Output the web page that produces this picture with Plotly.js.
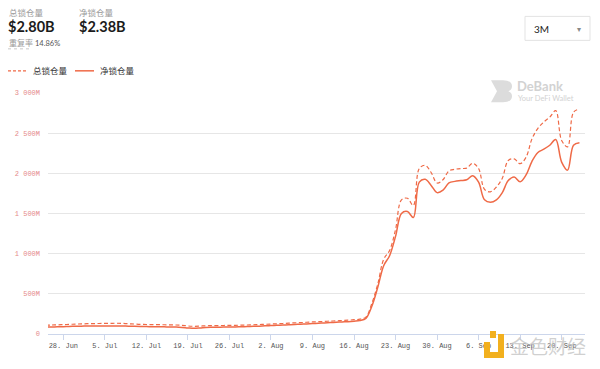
<!DOCTYPE html>
<html>
<head>
<meta charset="utf-8">
<script src="https://cdn.plot.ly/plotly-3.0.1.min.js"></script>
<style>
html,body{margin:0;padding:0;background:#fff;}
#chart{width:600px;height:369px;}
</style>
</head>
<body>
<div id="chart"></div>
<script>
// ---- data (values in millions USD), daily from 2021-06-25 ----
var startDate = '2021-06-25';
var totalLocked = [
 110,112,114,117,120,123,126,128,130,131,
 132,133,134,132,128,124,120,118,117,116,
 115,114,112,108,100,96,98,102,104,105,
 106,107,108,110,112,115,118,121,124,127,
 131,135,139,142,146,150,153,157,160,164,
 168,172,178,185,210,380,620,930,1040,1300,
 1670,1690,1600,2060,2100,2010,1880,1920,2030,2050,
 2060,2065,2125,2060,1800,1770,1830,1940,2160,2180,
 2120,2200,2430,2560,2640,2700,2780,2410,2330,2760,
 2800
];
var netLocked = [
 86,88,89,91,94,96,98,99,100,101,
 101,101,101,100,98,95,93,92,91,90,
 89,88,86,82,76,72,75,80,83,85,
 86,87,88,90,92,95,98,102,105,108,
 111,115,119,122,126,130,134,138,142,146,
 150,154,160,168,194,345,580,850,975,1215,
 1500,1525,1450,1890,1925,1850,1760,1790,1880,1900,
 1910,1920,1970,1890,1670,1640,1670,1760,1910,1955,
 1895,1980,2150,2260,2300,2350,2420,2140,2040,2350,
 2380
];
var xTickVals = ['2021-06-28','2021-07-05','2021-07-12','2021-07-19','2021-07-26','2021-08-02','2021-08-09','2021-08-16','2021-08-23','2021-08-30','2021-09-06','2021-09-13','2021-09-20'];
var xTickText = ['28. Jun','5. Jul','12. Jul','19. Jul','26. Jul','2. Aug','9. Aug','16. Aug','23. Aug','30. Aug','6. Sep','13. Sep','20. Sep'];
var yTickVals = [0,500,1000,1500,2000,2500,3000];
var yTickText = ['0','500M','1 000M','1 500M','2 000M','2 500M','3 000M'];
var seriesNames = ['总锁仓量','净锁仓量'];
var headerValues = ['$2.80B','$2.38B'];
var repeatRate = '14.86%';

// build dates
var dates = [];
(function(){
  var d = new Date(startDate + 'T00:00:00Z');
  for (var i = 0; i < totalLocked.length; i++) {
    var dd = new Date(d.getTime() + i*86400000);
    dates.push(dd.toISOString().slice(0,10));
  }
})();

var lineColor = '#ef6a47';
var traces = [
  {x: dates, y: totalLocked, name: seriesNames[0], type:'scatter', mode:'lines',
   line:{color:lineColor, width:1.2, dash:'4px,2.5px', shape:'spline', smoothing:1}, hoverinfo:'x+y'},
  {x: dates, y: netLocked, name: seriesNames[1], type:'scatter', mode:'lines',
   line:{color:lineColor, width:1.5, shape:'spline', smoothing:1}, hoverinfo:'x+y'}
];

// pixel helpers (plot area: x 48..585, y 92.7..334)
var L=48, R=585, T=92.7, B=334;
function px(x){ return (x-L)/(R-L); }
function py(y){ return (B-y)/(B-T); }

var font = 'Lato, "Noto Sans CJK SC", "Noto Sans", sans-serif';
var ann = [];
var shapes = [];
function text(t,x,y,size,color,opts){
  var a = {text:t, x:px(x), y:py(y), xref:'paper', yref:'paper', xanchor:'left', yanchor:'middle',
    showarrow:false, font:{family:font, size:size, color:color}};
  if (opts) for (var k in opts) a[k]=opts[k];
  ann.push(a);
}
// header
text('总锁仓量', 7, 13, 8.5, '#9a9a9a');
text('<b>'+headerValues[0]+'</b>', 6, 26, 14.5, '#1b1b1b');
text('净锁仓量', 77, 13, 8.5, '#9a9a9a');
text('<b>'+headerValues[1]+'</b>', 77, 26, 14.5, '#1b1b1b');
text('重复率', 7, 43, 8, '#9a9a9a');
text(repeatRate, 33, 43, 7.5, '#555');
shapes.push({type:'line', xref:'paper', yref:'paper', x0:px(8), x1:px(30), y0:py(48.5), y1:py(48.5), line:{color:'#bbb', width:0.8, dash:'dot'}});

// legend
shapes.push({type:'line', xref:'paper', yref:'paper', x0:px(8), x1:px(26), y0:py(70.5), y1:py(70.5), line:{color:lineColor, width:1.2, dash:'3px,2px'}});
text(seriesNames[0], 31, 70.5, 8.5, '#333');
shapes.push({type:'line', xref:'paper', yref:'paper', x0:px(75), x1:px(94), y0:py(70.5), y1:py(70.5), line:{color:lineColor, width:1.5}});
text(seriesNames[1], 98, 70.5, 8.5, '#333');

// dropdown
shapes.push({type:'rect', xref:'paper', yref:'paper', x0:px(525), x1:px(590), y0:py(16), y1:py(40), line:{color:'#e3e3e3', width:1}, fillcolor:'#fff'});
text('3M', 532, 28.5, 10, '#222');
text('▾', 575, 28.5, 8, '#888');

// DeBank watermark
shapes.push({type:'path', xref:'paper', yref:'paper',
  path:'M '+px(491)+' '+py(80)+' L '+px(503)+' '+py(80)+' Q '+px(512)+' '+py(80)+' '+px(512)+' '+py(86)+' Q '+px(512)+' '+py(90)+' '+px(508)+' '+py(91)+' Q '+px(512)+' '+py(92)+' '+px(512)+' '+py(96)+' Q '+px(512)+' '+py(102)+' '+px(503)+' '+py(102)+' L '+px(491)+' '+py(102)+' L '+px(497)+' '+py(91)+' Z',
  fillcolor:'#dcdcdc', line:{width:0}});
text('<b>DeBank</b>', 515, 86, 13, '#d2d2d2');
text('Your DeFi Wallet', 516, 98.5, 7.5, '#d2d2d2');

// 金色财经 watermark
shapes.push({type:'path', xref:'paper', yref:'paper',
  path:'M '+px(484)+' '+py(342)+' L '+px(490)+' '+py(342)+' L '+px(490)+' '+py(352)+' L '+px(498)+' '+py(352)+' L '+px(498)+' '+py(334)+' L '+px(504)+' '+py(334)+' L '+px(504)+' '+py(358)+' L '+px(484)+' '+py(358)+' Z',
  fillcolor:'#f2b01e', line:{width:0}});
shapes.push({type:'rect', xref:'paper', yref:'paper', x0:px(490), x1:px(496), y0:py(331), y1:py(338), fillcolor:'#f2b01e', line:{width:0}});
text('金色财经', 508, 347, 19, 'rgba(200,200,200,0.85)');

var layout = {
  width:600, height:369,
  margin:{l:L, r:600-R, t:T, b:369-B},
  paper_bgcolor:'#fff', plot_bgcolor:'#fff',
  showlegend:false,
  xaxis:{
    type:'date',
    range:['2021-06-25 10:00','2021-09-23 22:30'],
    tickvals:xTickVals, ticktext:xTickText,
    showgrid:false, zeroline:false,
    showline:true, linecolor:'#ccd6eb', linewidth:1,
    ticks:'outside', ticklen:5, tickcolor:'#ccd6eb',
    tickfont:{family:'"Liberation Mono", "DejaVu Sans Mono", monospace', size:7, color:'#555'}
  },
  yaxis:{
    range:[0,3000],
    tickvals:yTickVals, ticktext:yTickText,
    showgrid:true, gridcolor:'#e6e6e6', gridwidth:1,
    zeroline:false, showline:false, ticks:'',
    ticklabelstandoff:7,
    tickfont:{family:'"Liberation Mono", "DejaVu Sans Mono", monospace', size:7, color:'#e58a8a'}
  },
  annotations:ann,
  shapes:shapes
};
Plotly.newPlot('chart', traces, layout, {displayModeBar:false, staticPlot:true});
</script>
</body>
</html>
